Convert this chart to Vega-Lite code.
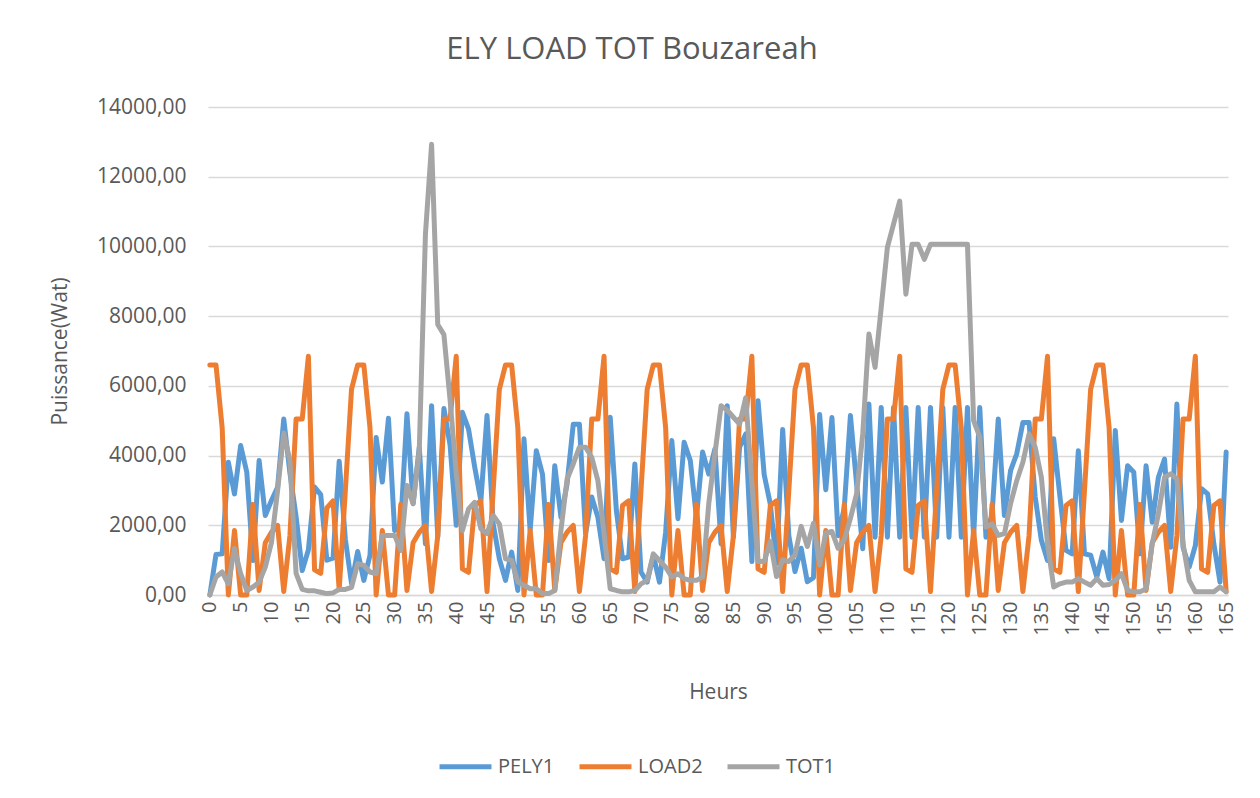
{
"$schema": "https://vega.github.io/schema/vega-lite/v6.json",
"width": 1020, "height": 488,
"autosize": {"type": "none"},
"padding": {"left": 208, "top": 107, "right": 32, "bottom": 203},
"background": "white",
"config": {"view": {"stroke": null}, "font": "Open Sans"},
"title": {"text": "ELY LOAD TOT Bouzareah", "fontSize": 31, "font": "Open Sans", "fontWeight": "normal", "color": "#595959", "offset": 30, "dx": -86},
"data": {"values": [
{"h":0,"PELY1":0,"LOAD2":6600,"TOT1":0},
{"h":1,"PELY1":1165,"LOAD2":6600,"TOT1":515},
{"h":2,"PELY1":1180,"LOAD2":4800,"TOT1":660},
{"h":3,"PELY1":3810,"LOAD2":0,"TOT1":320},
{"h":4,"PELY1":2900,"LOAD2":1850,"TOT1":1330},
{"h":5,"PELY1":4290,"LOAD2":0,"TOT1":610},
{"h":6,"PELY1":3520,"LOAD2":0,"TOT1":130},
{"h":7,"PELY1":990,"LOAD2":2600,"TOT1":230},
{"h":8,"PELY1":3860,"LOAD2":130,"TOT1":370},
{"h":9,"PELY1":2280,"LOAD2":1500,"TOT1":800},
{"h":10,"PELY1":2710,"LOAD2":1800,"TOT1":1500},
{"h":11,"PELY1":3090,"LOAD2":2000,"TOT1":3000},
{"h":12,"PELY1":5050,"LOAD2":100,"TOT1":4650},
{"h":13,"PELY1":3500,"LOAD2":1700,"TOT1":3850},
{"h":14,"PELY1":2250,"LOAD2":5050,"TOT1":620},
{"h":15,"PELY1":700,"LOAD2":5050,"TOT1":160},
{"h":16,"PELY1":1300,"LOAD2":6850,"TOT1":120},
{"h":17,"PELY1":3100,"LOAD2":720,"TOT1":120},
{"h":18,"PELY1":2880,"LOAD2":620,"TOT1":80},
{"h":19,"PELY1":1000,"LOAD2":2500,"TOT1":40},
{"h":20,"PELY1":1060,"LOAD2":2700,"TOT1":60},
{"h":21,"PELY1":3840,"LOAD2":150,"TOT1":160},
{"h":22,"PELY1":1600,"LOAD2":3000,"TOT1":160},
{"h":23,"PELY1":330,"LOAD2":5900,"TOT1":220},
{"h":24,"PELY1":1250,"LOAD2":6600,"TOT1":900},
{"h":25,"PELY1":420,"LOAD2":6600,"TOT1":850},
{"h":26,"PELY1":1140,"LOAD2":4800,"TOT1":660},
{"h":27,"PELY1":4520,"LOAD2":0,"TOT1":610},
{"h":28,"PELY1":3240,"LOAD2":1850,"TOT1":1710},
{"h":29,"PELY1":5070,"LOAD2":0,"TOT1":1710},
{"h":30,"PELY1":1850,"LOAD2":0,"TOT1":1710},
{"h":31,"PELY1":2050,"LOAD2":2600,"TOT1":1280},
{"h":32,"PELY1":5200,"LOAD2":130,"TOT1":3140},
{"h":33,"PELY1":2620,"LOAD2":1500,"TOT1":2620},
{"h":34,"PELY1":4240,"LOAD2":1800,"TOT1":4150},
{"h":35,"PELY1":1470,"LOAD2":2000,"TOT1":10350},
{"h":36,"PELY1":5430,"LOAD2":100,"TOT1":12930},
{"h":37,"PELY1":1670,"LOAD2":1700,"TOT1":7760},
{"h":38,"PELY1":5350,"LOAD2":5050,"TOT1":7470},
{"h":39,"PELY1":4300,"LOAD2":5050,"TOT1":5600},
{"h":40,"PELY1":2000,"LOAD2":6850,"TOT1":3500},
{"h":41,"PELY1":5240,"LOAD2":750,"TOT1":1850},
{"h":42,"PELY1":4760,"LOAD2":650,"TOT1":2470},
{"h":43,"PELY1":3670,"LOAD2":2570,"TOT1":2660},
{"h":44,"PELY1":2710,"LOAD2":2700,"TOT1":1900},
{"h":45,"PELY1":5150,"LOAD2":100,"TOT1":1760},
{"h":46,"PELY1":2040,"LOAD2":3000,"TOT1":2280},
{"h":47,"PELY1":1040,"LOAD2":5900,"TOT1":2040},
{"h":48,"PELY1":420,"LOAD2":6600,"TOT1":1040},
{"h":49,"PELY1":1230,"LOAD2":6600,"TOT1":990},
{"h":50,"PELY1":130,"LOAD2":4800,"TOT1":370},
{"h":51,"PELY1":4480,"LOAD2":0,"TOT1":280},
{"h":52,"PELY1":1850,"LOAD2":1850,"TOT1":180},
{"h":53,"PELY1":4140,"LOAD2":0,"TOT1":180},
{"h":54,"PELY1":3470,"LOAD2":0,"TOT1":40},
{"h":55,"PELY1":990,"LOAD2":2600,"TOT1":40},
{"h":56,"PELY1":3710,"LOAD2":130,"TOT1":130},
{"h":57,"PELY1":2230,"LOAD2":1500,"TOT1":1850},
{"h":58,"PELY1":3190,"LOAD2":1800,"TOT1":3330},
{"h":59,"PELY1":4900,"LOAD2":2000,"TOT1":3760},
{"h":60,"PELY1":4900,"LOAD2":100,"TOT1":4240},
{"h":61,"PELY1":1760,"LOAD2":1700,"TOT1":4240},
{"h":62,"PELY1":2810,"LOAD2":5050,"TOT1":3950},
{"h":63,"PELY1":2230,"LOAD2":5050,"TOT1":3280},
{"h":64,"PELY1":1040,"LOAD2":6850,"TOT1":1760},
{"h":65,"PELY1":5100,"LOAD2":750,"TOT1":180},
{"h":66,"PELY1":2420,"LOAD2":650,"TOT1":130},
{"h":67,"PELY1":1040,"LOAD2":2570,"TOT1":90},
{"h":68,"PELY1":1090,"LOAD2":2700,"TOT1":90},
{"h":69,"PELY1":3760,"LOAD2":100,"TOT1":130},
{"h":70,"PELY1":660,"LOAD2":3000,"TOT1":320},
{"h":71,"PELY1":370,"LOAD2":5900,"TOT1":420},
{"h":72,"PELY1":1140,"LOAD2":6600,"TOT1":1180},
{"h":73,"PELY1":370,"LOAD2":6600,"TOT1":990},
{"h":74,"PELY1":1800,"LOAD2":4800,"TOT1":800},
{"h":75,"PELY1":4430,"LOAD2":0,"TOT1":515},
{"h":76,"PELY1":2190,"LOAD2":1850,"TOT1":610},
{"h":77,"PELY1":4380,"LOAD2":0,"TOT1":470},
{"h":78,"PELY1":3860,"LOAD2":0,"TOT1":420},
{"h":79,"PELY1":2230,"LOAD2":2600,"TOT1":420},
{"h":80,"PELY1":4100,"LOAD2":130,"TOT1":515},
{"h":81,"PELY1":3470,"LOAD2":1500,"TOT1":2620},
{"h":82,"PELY1":4190,"LOAD2":1800,"TOT1":4050},
{"h":83,"PELY1":1470,"LOAD2":2000,"TOT1":5430},
{"h":84,"PELY1":5430,"LOAD2":100,"TOT1":5300},
{"h":85,"PELY1":1660,"LOAD2":1700,"TOT1":5100},
{"h":86,"PELY1":4240,"LOAD2":5050,"TOT1":4900},
{"h":87,"PELY1":4620,"LOAD2":5050,"TOT1":5660},
{"h":88,"PELY1":960,"LOAD2":6850,"TOT1":3200},
{"h":89,"PELY1":5570,"LOAD2":750,"TOT1":960},
{"h":90,"PELY1":3450,"LOAD2":650,"TOT1":960},
{"h":91,"PELY1":2600,"LOAD2":2570,"TOT1":1540},
{"h":92,"PELY1":900,"LOAD2":2700,"TOT1":530},
{"h":93,"PELY1":4750,"LOAD2":100,"TOT1":1010},
{"h":94,"PELY1":1700,"LOAD2":3000,"TOT1":960},
{"h":95,"PELY1":670,"LOAD2":5900,"TOT1":1150},
{"h":96,"PELY1":1340,"LOAD2":6600,"TOT1":1970},
{"h":97,"PELY1":380,"LOAD2":6600,"TOT1":1390},
{"h":98,"PELY1":500,"LOAD2":4800,"TOT1":2060},
{"h":99,"PELY1":5180,"LOAD2":0,"TOT1":860},
{"h":100,"PELY1":3020,"LOAD2":1850,"TOT1":1780},
{"h":101,"PELY1":5090,"LOAD2":0,"TOT1":1820},
{"h":102,"PELY1":1700,"LOAD2":0,"TOT1":1340},
{"h":103,"PELY1":2500,"LOAD2":2600,"TOT1":1580},
{"h":104,"PELY1":5150,"LOAD2":130,"TOT1":2200},
{"h":105,"PELY1":3190,"LOAD2":1500,"TOT1":2900},
{"h":106,"PELY1":1330,"LOAD2":1800,"TOT1":4620},
{"h":107,"PELY1":5480,"LOAD2":2000,"TOT1":7490},
{"h":108,"PELY1":1660,"LOAD2":100,"TOT1":6530},
{"h":109,"PELY1":5380,"LOAD2":1700,"TOT1":8250},
{"h":110,"PELY1":1660,"LOAD2":5050,"TOT1":9970},
{"h":111,"PELY1":5380,"LOAD2":5050,"TOT1":10640},
{"h":112,"PELY1":1660,"LOAD2":6850,"TOT1":11300},
{"h":113,"PELY1":5380,"LOAD2":750,"TOT1":8630},
{"h":114,"PELY1":1660,"LOAD2":650,"TOT1":10060},
{"h":115,"PELY1":5380,"LOAD2":2570,"TOT1":10060},
{"h":116,"PELY1":1660,"LOAD2":2700,"TOT1":9630},
{"h":117,"PELY1":5380,"LOAD2":100,"TOT1":10060},
{"h":118,"PELY1":1660,"LOAD2":3000,"TOT1":10060},
{"h":119,"PELY1":5380,"LOAD2":5900,"TOT1":10060},
{"h":120,"PELY1":1660,"LOAD2":6600,"TOT1":10060},
{"h":121,"PELY1":5380,"LOAD2":6600,"TOT1":10060},
{"h":122,"PELY1":1660,"LOAD2":4800,"TOT1":10060},
{"h":123,"PELY1":5380,"LOAD2":0,"TOT1":10060},
{"h":124,"PELY1":1660,"LOAD2":1850,"TOT1":5000},
{"h":125,"PELY1":5380,"LOAD2":0,"TOT1":4530},
{"h":126,"PELY1":1660,"LOAD2":0,"TOT1":1950},
{"h":127,"PELY1":2330,"LOAD2":2600,"TOT1":2040},
{"h":128,"PELY1":5050,"LOAD2":130,"TOT1":1710},
{"h":129,"PELY1":2280,"LOAD2":1500,"TOT1":1760},
{"h":130,"PELY1":3570,"LOAD2":1800,"TOT1":2620},
{"h":131,"PELY1":4050,"LOAD2":2000,"TOT1":3280},
{"h":132,"PELY1":4950,"LOAD2":100,"TOT1":3810},
{"h":133,"PELY1":4950,"LOAD2":1700,"TOT1":4620},
{"h":134,"PELY1":2810,"LOAD2":5050,"TOT1":4240},
{"h":135,"PELY1":1570,"LOAD2":5050,"TOT1":3380},
{"h":136,"PELY1":990,"LOAD2":6850,"TOT1":1470},
{"h":137,"PELY1":4480,"LOAD2":750,"TOT1":230},
{"h":138,"PELY1":2850,"LOAD2":650,"TOT1":320},
{"h":139,"PELY1":1280,"LOAD2":2570,"TOT1":370},
{"h":140,"PELY1":1180,"LOAD2":2700,"TOT1":370},
{"h":141,"PELY1":4140,"LOAD2":100,"TOT1":470},
{"h":142,"PELY1":1180,"LOAD2":3000,"TOT1":370},
{"h":143,"PELY1":1140,"LOAD2":5900,"TOT1":280},
{"h":144,"PELY1":515,"LOAD2":6600,"TOT1":470},
{"h":145,"PELY1":1230,"LOAD2":6600,"TOT1":280},
{"h":146,"PELY1":470,"LOAD2":4800,"TOT1":300},
{"h":147,"PELY1":4720,"LOAD2":0,"TOT1":420},
{"h":148,"PELY1":2140,"LOAD2":1850,"TOT1":610},
{"h":149,"PELY1":3710,"LOAD2":0,"TOT1":130},
{"h":150,"PELY1":3520,"LOAD2":0,"TOT1":90},
{"h":151,"PELY1":1180,"LOAD2":2600,"TOT1":90},
{"h":152,"PELY1":3710,"LOAD2":130,"TOT1":180},
{"h":153,"PELY1":2090,"LOAD2":1500,"TOT1":1470},
{"h":154,"PELY1":3380,"LOAD2":1800,"TOT1":2330},
{"h":155,"PELY1":3900,"LOAD2":2000,"TOT1":3380},
{"h":156,"PELY1":1370,"LOAD2":100,"TOT1":3475},
{"h":157,"PELY1":5480,"LOAD2":1700,"TOT1":3330},
{"h":158,"PELY1":1370,"LOAD2":5050,"TOT1":1470},
{"h":159,"PELY1":800,"LOAD2":5050,"TOT1":420},
{"h":160,"PELY1":1420,"LOAD2":6850,"TOT1":90},
{"h":161,"PELY1":3050,"LOAD2":750,"TOT1":90},
{"h":162,"PELY1":2900,"LOAD2":650,"TOT1":90},
{"h":163,"PELY1":1470,"LOAD2":2570,"TOT1":90},
{"h":164,"PELY1":370,"LOAD2":2700,"TOT1":230},
{"h":165,"PELY1":4100,"LOAD2":100,"TOT1":90}
]},
"encoding": {
  "x": {"field": "h", "type": "quantitative",
    "scale": {"domain": [-0.3, 165.3], "nice": false, "zero": false},
    "axis": {"values": [0,5,10,15,20,25,30,35,40,45,50,55,60,65,70,75,80,85,90,95,100,105,110,115,120,125,130,135,140,145,150,155,160,165],
      "labelAngle": -90, "labelFontSize": 20, "labelColor": "#595959", "labelPadding": 6, "labelFont": "Open Sans",
      "ticks": false, "grid": false, "domain": true, "domainColor": "#D9D9D9", "domainWidth": 1.3,
      "title": "Heurs", "titleFontSize": 21, "titleFontWeight": "normal", "titleColor": "#595959", "titleFont": "Open Sans",
      "titleY": 97, "titleBaseline": "middle"}}
},
"layer": [
  {"mark": {"type": "line", "strokeWidth": 5, "strokeJoin": "round", "strokeCap": "round"},
   "encoding": {
     "y": {"field": "PELY1", "type": "quantitative", "title": "Puissance(Wat)",
       "scale": {"domain": [0, 14000], "nice": false},
       "axis": {"values": [0,2000,4000,6000,8000,10000,12000,14000],
         "labelExpr": "replace(format(datum.value, '.2f'), '.', ',')",
         "labelFontSize": 21, "labelColor": "#595959", "labelPadding": 22, "labelFont": "Open Sans",
         "domain": false, "ticks": false, "grid": true, "gridColor": "#D9D9D9", "gridWidth": 1.3,
         "titleFontSize": 21, "titleFontWeight": "normal", "titleColor": "#595959", "titleFont": "Open Sans",
         "titleX": -148, "titleY": 244, "titleAlign": "center", "titleBaseline": "middle", "titleAngle": -90}},
     "color": {"datum": "PELY1", "type": "nominal",
       "scale": {"domain": ["PELY1", "LOAD2", "TOT1"], "range": ["#5B9BD5", "#ED7D31", "#A5A5A5"]},
       "legend": {"orient": "none", "legendX": 229, "legendY": 631, "direction": "horizontal", "title": null,
         "symbolType": "stroke", "symbolStrokeWidth": 5, "symbolSize": 2700,
         "labelFontSize": 20, "labelColor": "#595959", "labelFont": "Open Sans", "labelOffset": 4, "columnPadding": 14}}}},
  {"mark": {"type": "line", "strokeWidth": 5, "strokeJoin": "round", "strokeCap": "round"},
   "encoding": {
     "y": {"field": "LOAD2", "type": "quantitative", "title": "Puissance(Wat)"},
     "color": {"datum": "LOAD2", "type": "nominal"}}},
  {"mark": {"type": "line", "strokeWidth": 5, "strokeJoin": "round", "strokeCap": "round"},
   "encoding": {
     "y": {"field": "TOT1", "type": "quantitative", "title": "Puissance(Wat)"},
     "color": {"datum": "TOT1", "type": "nominal"}}}
]
}
